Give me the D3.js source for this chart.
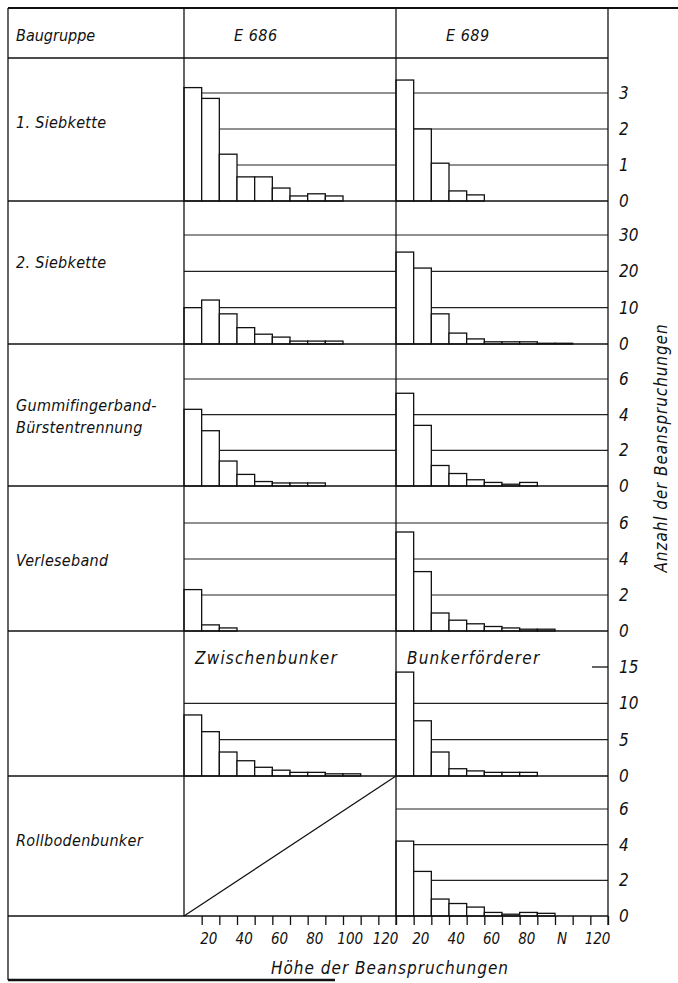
<!DOCTYPE html>
<html>
<head>
<meta charset="utf-8">
<script src="https://cdn.jsdelivr.net/npm/d3@7"></script>
<style>
  body { margin: 0; background: #fff; }
  text { font-family: "DejaVu Sans Condensed", "DejaVu Sans", sans-serif; font-style: italic; fill: #111; }
</style>
</head>
<body>
<div id="chart"></div>
<script>

// Baugruppen (row labels)
var groupLabels = [["1. Siebkette"], ["2. Siebkette"], ["Gummifingerband-", "Bürstentrennung"], ["Verleseband"], [], ["Rollbodenbunker"]];
var machines = ["E 686", "E 689"];
var innerLabels = ["Zwischenbunker", "Bunkerförderer"];

// Anzahl der Beanspruchungen, classes of 10 (0-10, 10-20, ...)
var e686Sieb1 = [3.15, 2.85, 1.3, 0.67, 0.67, 0.36, 0.14, 0.2, 0.14];
var e689Sieb1 = [3.36, 2.0, 1.05, 0.28, 0.17];
var e686Sieb2 = [10, 12.1, 8.3, 4.5, 2.7, 1.9, 0.8, 0.8, 0.8];
var e689Sieb2 = [25.3, 20.9, 8.3, 3.0, 1.4, 0.6, 0.6, 0.6, 0.2, 0.2];
var e686Gummi = [4.3, 3.1, 1.4, 0.65, 0.25, 0.17, 0.17, 0.17];
var e689Gummi = [5.2, 3.4, 1.15, 0.7, 0.35, 0.2, 0.1, 0.2];
var e686Verl = [2.3, 0.34, 0.17];
var e689Verl = [5.5, 3.3, 1.0, 0.6, 0.4, 0.25, 0.17, 0.1, 0.1];
var e686Zwisch = [8.4, 6.1, 3.3, 2.1, 1.2, 0.8, 0.5, 0.5, 0.3, 0.3];
var e689Bunkf = [14.3, 7.6, 3.3, 1.0, 0.7, 0.5, 0.5, 0.5];
var e689Roll = [4.2, 2.5, 0.95, 0.7, 0.5, 0.2, 0.1, 0.2, 0.15];

// y tick values per row
var yTicks = [[0, 1, 2, 3], [0, 10, 20, 30], [0, 2, 4, 6], [0, 2, 4, 6], [0, 5, 10, 15], [0, 2, 4, 6]];

// x axis
var xTicks = [10, 20, 30, 40, 50, 60, 70, 80, 90, 100, 110, 120];
var xLabels686 = {20: "20", 40: "40", 60: "60", 80: "80", 100: "100", 120: "120"};
var xLabels689 = {20: "20", 40: "40", 60: "60", 80: "80", 100: "N", 120: "120"};

var series = [
  [e686Sieb1, e689Sieb1],
  [e686Sieb2, e689Sieb2],
  [e686Gummi, e689Gummi],
  [e686Verl, e689Verl],
  [e686Zwisch, e689Bunkf],
  [null, e689Roll]
];

// layout
var W = 678, H = 983;
var L = 8, C1 = 184, C2 = 396, C3 = 608, TOP = 8, HEAD = 58;
var rowBase = [201, 344, 486, 631, 776, 916];
var rowTopTick = [93, 235, 379, 523, 667, 809];
var cols = [C1, C2];
var lw = 1.3;

var svg = d3.select("#chart").append("svg")
    .attr("width", W)
    .attr("height", H);

var x = d3.scaleLinear().domain([0, 120]).range([0, C2 - C1]);

function hline(x1, x2, y, w) {
  svg.append("line")
    .attr("x1", x1).attr("x2", x2).attr("y1", y).attr("y2", y)
    .attr("stroke", "#111").attr("stroke-width", w || lw);
}
function vline(xx, y1, y2, w) {
  svg.append("line")
    .attr("x1", xx).attr("x2", xx).attr("y1", y1).attr("y2", y2)
    .attr("stroke", "#111").attr("stroke-width", w || lw);
}

// rows
series.forEach(function (pair, r) {
  var ticks = yTicks[r];
  var y = d3.scaleLinear()
    .domain([0, ticks[ticks.length - 1]])
    .range([rowBase[r], rowTopTick[r]]);

  pair.forEach(function (vals, c) {
    if (!vals) return;
    var g = svg.append("g").attr("transform", "translate(" + cols[c] + ",0)");

    // grid lines
    g.selectAll(".grid")
      .data(ticks.filter(function (t) { return t > 0 && !(r == 4 && t == 15); }))
      .enter().append("line")
        .attr("x1", 0).attr("x2", C2 - C1)
        .attr("y1", function (d) { return y(d); })
        .attr("y2", function (d) { return y(d); })
        .attr("stroke", "#222").attr("stroke-width", 1.2);

    // bars
    g.selectAll(".bar")
      .data(vals)
      .enter().append("rect")
        .attr("x", function (d, i) { return x(i * 10); })
        .attr("width", x(10))
        .attr("y", function (d) { return y(d); })
        .attr("height", function (d) { return y(0) - y(d); })
        .attr("fill", "#fff")
        .attr("stroke", "#111")
        .attr("stroke-width", lw);
  });

  // right axis
  var ax = svg.append("g")
    .attr("transform", "translate(" + C3 + ",0)")
    .call(d3.axisRight(y).tickValues(ticks).tickSize(0).tickPadding(11).tickFormat(d3.format("d")));
  ax.select(".domain").remove();
  ax.selectAll("text").style("font-size", "17px");

  // row separator
  hline(L, C3, rowBase[r]);
});

// short tick for 15 in Bunkerförderer panel
var y5 = d3.scaleLinear().domain([0, 15]).range([rowBase[4], rowTopTick[4]]);
hline(C3 - 16, C3, y5(15));

// diagonal: no Rollbodenbunker on E 686
svg.append("line")
  .attr("x1", C1).attr("y1", rowBase[5])
  .attr("x2", C2).attr("y2", rowBase[4])
  .attr("stroke", "#111").attr("stroke-width", lw);

// frame
hline(L, W, TOP, 1.8);
hline(L, C3, HEAD);
vline(L, TOP, 980);
vline(C1, TOP, rowBase[5]);
vline(C2, TOP, rowBase[5] + 9);
vline(C3, TOP, rowBase[5] + 9);
hline(L, 335, 980, 2.4);

// header texts
svg.append("text").attr("x", 16).attr("y", 41).style("font-size", "16px").text("Baugruppe");
svg.selectAll(".mach")
  .data(machines)
  .enter().append("text")
    .attr("x", function (d, i) { return cols[i] + 50; })
    .attr("y", 41)
    .style("font-size", "16px")
    .style("letter-spacing", "0.5px")
    .text(function (d) { return d; });

// group labels
var labelY = [128, 268, 422, 566, 0, 846];
groupLabels.forEach(function (lines, r) {
  lines.forEach(function (s, k) {
    svg.append("text")
      .attr("x", 16)
      .attr("y", labelY[r] + k * 22 - (lines.length - 1) * 11)
      .style("font-size", "16px")
      .style("letter-spacing", "0.3px")
      .text(s);
  });
});

// labels inside row 5
svg.selectAll(".inner")
  .data(innerLabels)
  .enter().append("text")
    .attr("x", function (d, i) { return cols[i] + 11; })
    .attr("y", 664)
    .style("font-size", "17px")
    .style("letter-spacing", "1.2px")
    .text(function (d) { return d; });

// bottom axes
[xLabels686, xLabels689].forEach(function (labs, c) {
  var ax = svg.append("g")
    .attr("transform", "translate(" + cols[c] + "," + rowBase[5] + ")")
    .call(d3.axisBottom(x).tickValues(xTicks).tickSize(9).tickPadding(8)
      .tickFormat(function (d) { return labs[d] || ""; }));
  ax.select(".domain").remove();
  ax.selectAll("line").attr("stroke", "#111").attr("stroke-width", lw);
  ax.selectAll("text").style("font-size", "15px").attr("dx", -11);
});

// axis titles
svg.append("text")
  .attr("x", 390)
  .attr("y", 974)
  .attr("text-anchor", "middle")
  .style("font-size", "17px")
  .style("letter-spacing", "1px")
  .text("Höhe der Beanspruchungen");

svg.append("text")
  .attr("transform", "translate(667,448) rotate(-90)")
  .attr("text-anchor", "middle")
  .style("font-size", "17px")
  .style("letter-spacing", "0.9px")
  .text("Anzahl der Beanspruchungen");

</script>
</body>
</html>
